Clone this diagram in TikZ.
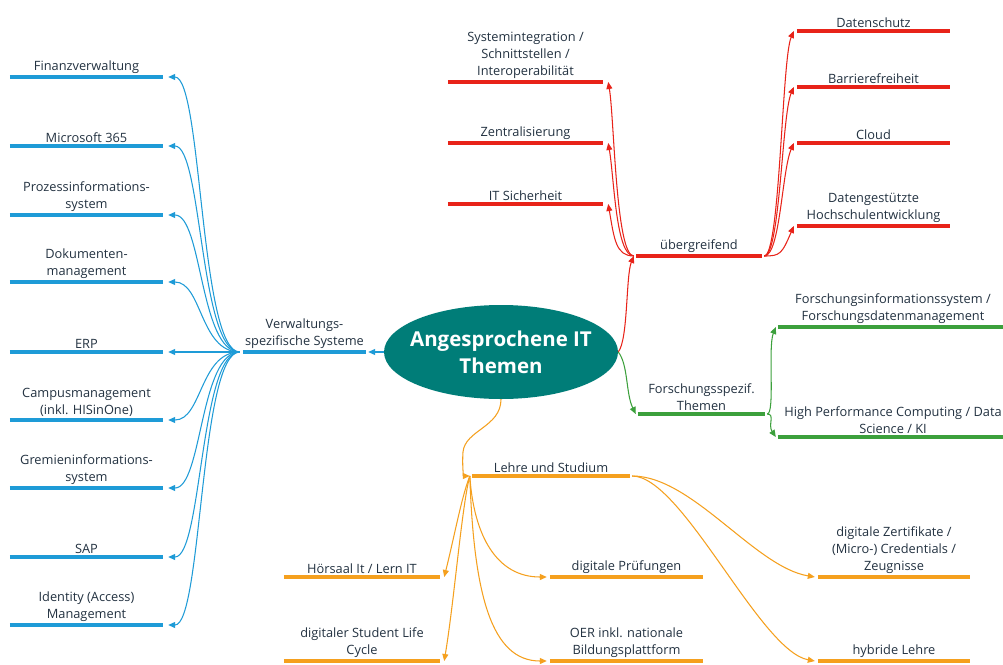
\documentclass[tikz,border=0pt]{standalone}
\usepackage{fontspec}
\setmainfont{Open Sans}
\usetikzlibrary{arrows.meta,shapes.geometric}
\definecolor{mmblue}{RGB}{30,155,215}
\definecolor{mmred}{RGB}{232,35,25}
\definecolor{mmgreen}{RGB}{60,160,60}
\definecolor{mmorange}{RGB}{245,160,30}
\definecolor{mmteal}{RGB}{0,125,120}
\definecolor{mmtext}{RGB}{35,50,65}
\tikzset{
  topic/.style={inner xsep=0pt, inner ysep=3.5pt, align=center, text=mmtext,
    font=\fontsize{12.8}{16.8}\selectfont},
  mmbar/.style={line width=4pt, draw=#1},
  mmconn/.style={line width=1.05pt, draw=#1, -{Triangle[length=7pt,width=6pt]}},
}
\newcommand\mmtopic[6]{%
  \node[topic, minimum width={(#4-#3)*1pt}, anchor=south] (#1) at ({(#3+#4)/2},#5) {#6};
  \draw[mmbar=#2] (#1.south west) -- (#1.south east);
}
\begin{document}
\begin{tikzpicture}[x=1pt,y=-1pt]
\useasboundingbox (0,0) rectangle (1003,664);
\fill[white] (0,0) rectangle (1003,664);

\node[ellipse, fill=mmteal, minimum width=234pt, minimum height=94pt, inner xsep=-45pt, inner ysep=-22pt, text=white,
  font=\bfseries\fontsize{20.5}{27}\selectfont, align=center] (root) at (501,352) {Angesprochene IT\\Themen};

% blue
\mmtopic{verw}{mmblue}{243}{366}{352}{Verwaltungs-\\spezifische Systeme}
\mmtopic{fin}{mmblue}{10}{163}{77}{Finanzverwaltung}
\mmtopic{ms}{mmblue}{10}{163}{146}{Microsoft 365}
\mmtopic{proz}{mmblue}{10}{163}{215}{Prozessinformations-\\system}
\mmtopic{dok}{mmblue}{10}{163}{282}{Dokumenten-\\management}
\mmtopic{erp}{mmblue}{10}{163}{352}{ERP}
\mmtopic{campus}{mmblue}{10}{163}{420}{Campusmanagement\\(inkl. HISinOne)}
\mmtopic{grem}{mmblue}{10}{163}{488}{Gremieninformations-\\system}
\mmtopic{sap}{mmblue}{10}{163}{557}{SAP}
\mmtopic{iam}{mmblue}{10}{163}{625}{Identity (Access)\\Management}

\draw[mmconn=mmblue] (root.west) -- ([xshift=2pt]verw.south east);
\foreach \n in {fin,ms,proz,dok,erp,campus,grem,sap,iam}{
  \draw[mmconn=mmblue] ([xshift=-3pt]verw.south west) .. controls +(-40,0) and +(34,0) .. ([xshift=5pt]\n.south east);
}

% red
\mmtopic{ueber}{mmred}{636}{762}{256}{übergreifend}
\mmtopic{sys}{mmred}{448}{603}{82}{Systemintegration /\\Schnittstellen /\\Interoperabilität}
\mmtopic{zent}{mmred}{448}{603}{143}{Zentralisierung}
\mmtopic{itsich}{mmred}{448}{603}{204}{IT Sicherheit}
\mmtopic{dschutz}{mmred}{797}{950}{31}{Datenschutz}
\mmtopic{barr}{mmred}{797}{950}{87}{Barrierefreiheit}
\mmtopic{cloud}{mmred}{797}{950}{143}{Cloud}
\mmtopic{dhe}{mmred}{797}{950}{226}{Datengestützte\\Hochschulentwicklung}

\draw[mmconn=mmred] (root.east) .. controls +(10,-12) and +(-8,20) .. ([xshift=-2pt]ueber.south west);
\foreach \n in {sys,zent,itsich}{
  \draw[mmconn=mmred] ([xshift=-2pt]ueber.south west) .. controls +(-18,0) and +(6,35) .. ([xshift=5pt]\n.south east);
}
\foreach \n in {dschutz,barr,cloud,dhe}{
  \draw[mmconn=mmred] ([xshift=2pt]ueber.south east) .. controls +(16,0) and +(-12,28) .. ([xshift=-3pt]\n.south west);
}

% green
\mmtopic{forsch}{mmgreen}{638}{765}{414}{Forschungsspezif.\\Themen}
\mmtopic{fis}{mmgreen}{778}{1008}{327}{Forschungsinformationssystem /\\Forschungsdatenmanagement}
\mmtopic{hpc}{mmgreen}{778}{1008}{437}{High Performance Computing / Data\\Science / KI}

\draw[mmconn=mmgreen] (root.east) .. controls +(10,12) and +(-10,-20) .. ([xshift=-2pt]forsch.south west);
\draw[mmconn=mmgreen] ([xshift=2pt]forsch.south east) .. controls +(8,0) and +(-8,20) .. ([xshift=-2pt]fis.south west);
\draw[mmconn=mmgreen] ([xshift=2pt]forsch.south east) .. controls +(8,0) and +(-8,-12) .. ([xshift=-2pt]hpc.south west);

% orange
\mmtopic{lehre}{mmorange}{472}{630}{476}{Lehre und Studium}
\mmtopic{hoer}{mmorange}{284}{440}{577}{Hörsaal It / Lern IT}
\mmtopic{dslc}{mmorange}{284}{440}{661}{digitaler Student Life\\Cycle}
\mmtopic{dpruef}{mmorange}{550}{703}{577}{digitale Prüfungen}
\mmtopic{oer}{mmorange}{550}{703}{661}{OER inkl. nationale\\Bildungsplattform}
\mmtopic{zert}{mmorange}{818}{970}{577}{digitale Zertifikate /\\(Micro-) Credentials /\\Zeugnisse}
\mmtopic{hybrid}{mmorange}{818}{970}{661}{hybride Lehre}

\coordinate (obend) at (463,452);
\draw[mmconn=mmorange] (root.south) .. controls +(0,28) and +(2,-22) .. (obend) .. controls +(-1,14) and +(-6,0) .. ([xshift=-2pt]lehre.south west);
\draw[mmconn=mmorange] ([xshift=-2pt]lehre.south west) .. controls +(-8,20) and +(10,-40) .. ([xshift=4pt]hoer.south east);
\draw[mmconn=mmorange] ([xshift=-2pt]lehre.south west) .. controls +(-8,30) and +(10,-60) .. ([xshift=4pt]dslc.south east);
\draw[mmconn=mmorange] ([xshift=-2pt]lehre.south west) .. controls +(4,60) and +(-50,0) .. ([xshift=-3pt]dpruef.south west);
\draw[mmconn=mmorange] ([xshift=-2pt]lehre.south west) .. controls +(4,120) and +(-55,0) .. ([xshift=-3pt]oer.south west);
\draw[mmconn=mmorange] ([xshift=2pt]lehre.south east) .. controls +(60,0) and +(-60,-10) .. ([xshift=-3pt]zert.south west);
\draw[mmconn=mmorange] ([xshift=2pt]lehre.south east) .. controls +(50,0) and +(-55,-10) .. ([xshift=-3pt]hybrid.south west);
\end{tikzpicture}
\end{document}
